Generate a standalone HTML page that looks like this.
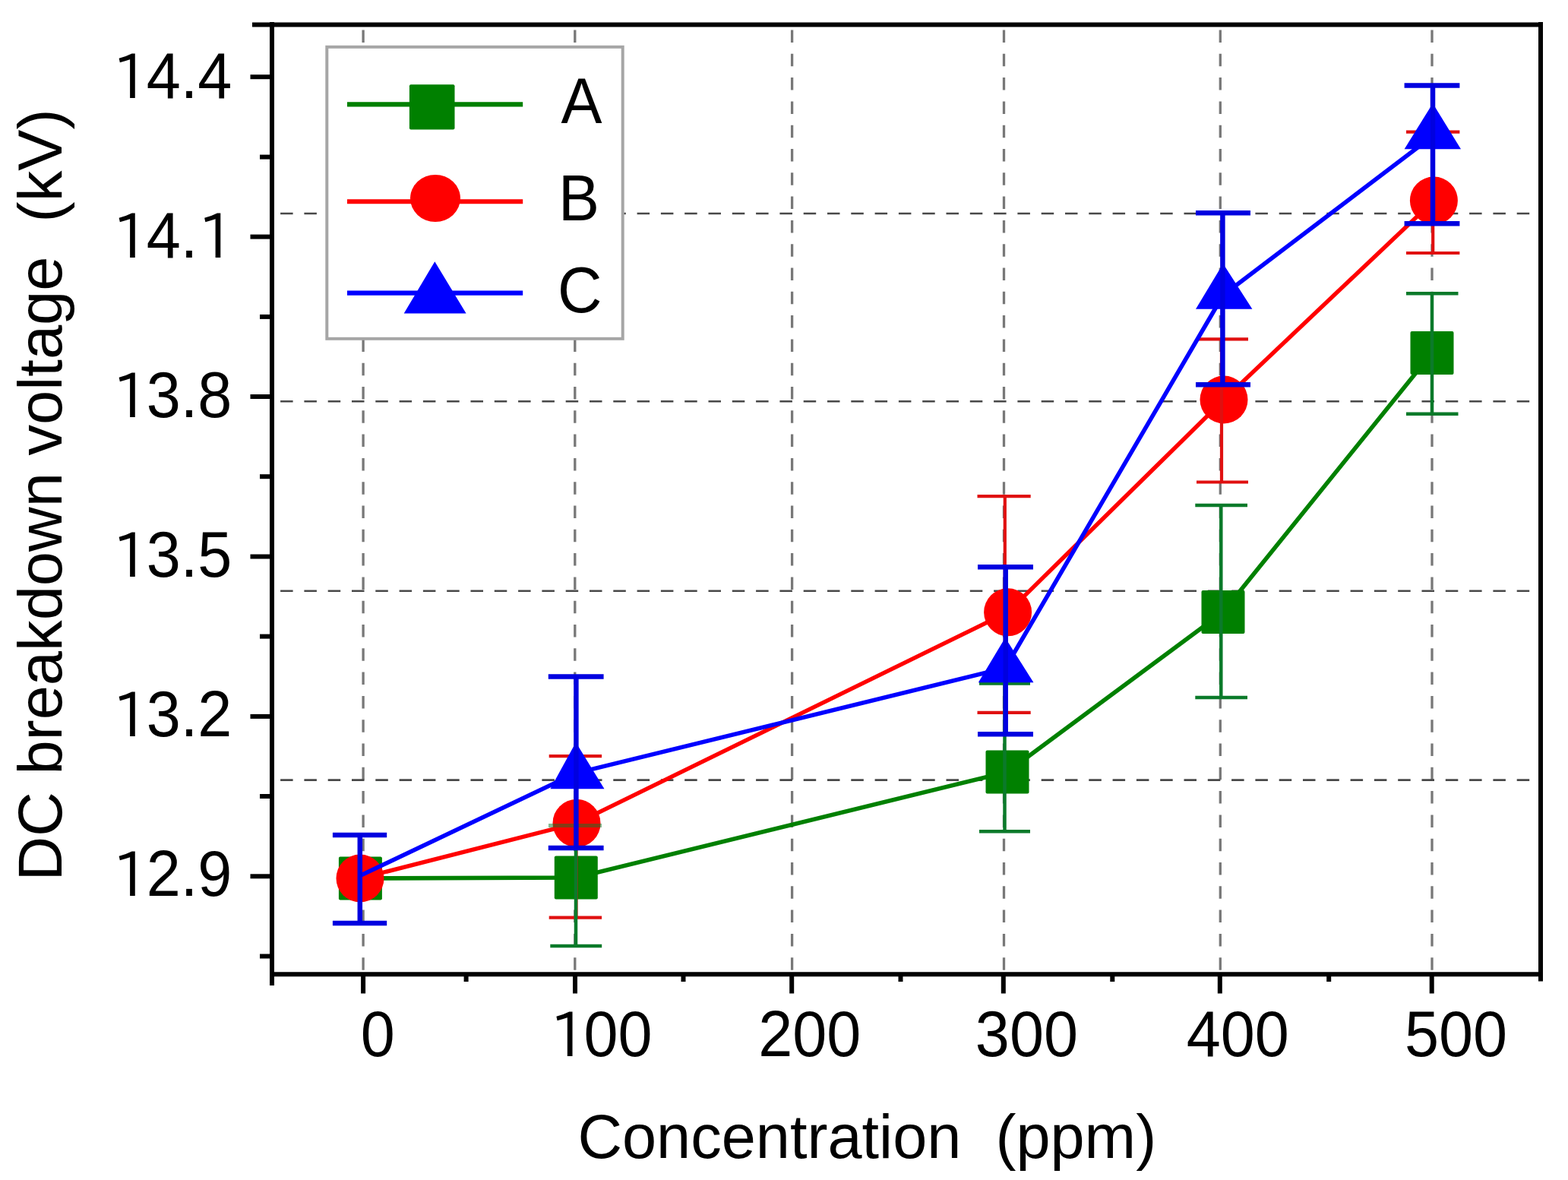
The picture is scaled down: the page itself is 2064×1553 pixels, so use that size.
<!DOCTYPE html>
<html><head><meta charset="utf-8"><title>DC breakdown voltage vs concentration</title>
<style>
html,body{margin:0;padding:0;background:#fff;}
svg{display:block;}
#wrap{width:2064px;height:1553px;}
text{font-family:"Liberation Sans",Arial,Helvetica,sans-serif;fill:#000;white-space:pre;}
.one{font-family:"IPAPGothic","IPAGothic","Liberation Sans",sans-serif;font-size:76.1px;}
</style></head><body><div id="wrap">
<svg width="2064" height="1553" viewBox="0 0 2064 1553">
<rect x="0" y="0" width="2064" height="1553" fill="#ffffff"/>
<line x1="478.1" y1="39.5" x2="478.1" y2="1279" stroke="#787878" stroke-width="3.3" stroke-dasharray="16.5 14.8" fill="none"/>
<line x1="756.8" y1="39.5" x2="756.8" y2="1279" stroke="#787878" stroke-width="3.3" stroke-dasharray="16.5 14.8" fill="none"/>
<line x1="1042.6" y1="39.5" x2="1042.6" y2="1279" stroke="#787878" stroke-width="3.3" stroke-dasharray="16.5 14.8" fill="none"/>
<line x1="1321.5" y1="39.5" x2="1321.5" y2="1279" stroke="#787878" stroke-width="3.3" stroke-dasharray="16.5 14.8" fill="none"/>
<line x1="1606.3" y1="39.5" x2="1606.3" y2="1279" stroke="#787878" stroke-width="3.3" stroke-dasharray="16.5 14.8" fill="none"/>
<line x1="1885.0" y1="39.5" x2="1885.0" y2="1279" stroke="#787878" stroke-width="3.3" stroke-dasharray="16.5 14.8" fill="none"/>
<line x1="369.1" y1="281.0" x2="2025" y2="281.0" stroke="#484848" stroke-width="2.6" stroke-dasharray="16.5 14.8" fill="none"/>
<line x1="369.1" y1="528.3" x2="2025" y2="528.3" stroke="#484848" stroke-width="2.6" stroke-dasharray="16.5 14.8" fill="none"/>
<line x1="369.1" y1="777.8" x2="2025" y2="777.8" stroke="#484848" stroke-width="2.6" stroke-dasharray="16.5 14.8" fill="none"/>
<line x1="369.1" y1="1026.6" x2="2025" y2="1026.6" stroke="#484848" stroke-width="2.6" stroke-dasharray="16.5 14.8" fill="none"/>
<polyline points="474.4,1156 758.3,1155 1326,1016 1610,805.4 1885,464.5" fill="none" stroke="#008000" stroke-width="5.6" stroke-linejoin="round"/>
<rect x="445.9" y="1127.5" width="57" height="57" rx="2" fill="#008000"/>
<rect x="729.8" y="1126.5" width="57" height="57" rx="2" fill="#008000"/>
<rect x="1297.5" y="987.5" width="57" height="57" rx="2" fill="#008000"/>
<rect x="1581.5" y="776.9" width="57" height="57" rx="2" fill="#008000"/>
<rect x="1856.5" y="436.0" width="57" height="57" rx="2" fill="#008000"/>
<polyline points="474.0,1156 759.0,1083.4 1326.6,805.8 1611,526 1887.4,264" fill="none" stroke="#ff0000" stroke-width="5.4" stroke-linejoin="round"/>
<circle cx="474.0" cy="1156" r="31.5" fill="#ff0000"/>
<circle cx="759.0" cy="1083.4" r="31.5" fill="#ff0000"/>
<circle cx="1326.6" cy="805.8" r="31.5" fill="#ff0000"/>
<circle cx="1611" cy="526" r="31.5" fill="#ff0000"/>
<circle cx="1887.4" cy="264" r="31.5" fill="#ff0000"/>
<line x1="722.7" y1="995.2" x2="792.1" y2="995.2" stroke="#e01010" stroke-width="4.2"/>
<line x1="722.7" y1="1207.6" x2="792.1" y2="1207.6" stroke="#e01010" stroke-width="4.2"/>
<line x1="758.5" y1="995.2" x2="758.5" y2="1207.6" stroke="#e01010" stroke-width="4.2"/>
<line x1="1286.5" y1="653.1" x2="1356.7" y2="653.1" stroke="#e01010" stroke-width="4.2"/>
<line x1="1286.5" y1="937.9" x2="1356.7" y2="937.9" stroke="#e01010" stroke-width="4.2"/>
<line x1="1322.8" y1="653.1" x2="1322.8" y2="937.9" stroke="#e01010" stroke-width="4.2"/>
<line x1="1575.0" y1="446.4" x2="1643.0" y2="446.4" stroke="#e01010" stroke-width="4.2"/>
<line x1="1575.0" y1="634.5" x2="1643.0" y2="634.5" stroke="#e01010" stroke-width="4.2"/>
<line x1="1608.0" y1="446.4" x2="1608.0" y2="634.5" stroke="#e01010" stroke-width="4.2"/>
<line x1="1851.0" y1="173.7" x2="1921.4" y2="173.7" stroke="#e01010" stroke-width="4.2"/>
<line x1="1851.0" y1="333.0" x2="1921.4" y2="333.0" stroke="#e01010" stroke-width="4.2"/>
<line x1="1886.2" y1="173.7" x2="1886.2" y2="333.0" stroke="#e01010" stroke-width="4.2"/>
<line x1="724.3" y1="1245.0" x2="792.2" y2="1245.0" stroke="#0b7a2a" stroke-width="4.5"/>
<line x1="758.0" y1="1245.0" x2="758.0" y2="1245.0" stroke="#0b7a2a" stroke-width="4.5"/>
<line x1="758" y1="1087.6" x2="758" y2="1245" stroke="#0b7a2a" stroke-width="4.5"/>
<line x1="722" y1="1086.5" x2="792" y2="1086.5" stroke="#0b7a2a" stroke-width="5" opacity="0.5"/>
<line x1="1289.0" y1="899.5" x2="1356.0" y2="899.5" stroke="#0b7a2a" stroke-width="4.5"/>
<line x1="1289.0" y1="1094.2" x2="1356.0" y2="1094.2" stroke="#0b7a2a" stroke-width="4.5"/>
<line x1="1322.5" y1="899.5" x2="1322.5" y2="1094.2" stroke="#0b7a2a" stroke-width="4.5"/>
<line x1="1573.3" y1="665.0" x2="1642.0" y2="665.0" stroke="#0b7a2a" stroke-width="4.5"/>
<line x1="1573.3" y1="918.1" x2="1642.0" y2="918.1" stroke="#0b7a2a" stroke-width="4.5"/>
<line x1="1607.3" y1="665.0" x2="1607.3" y2="918.1" stroke="#0b7a2a" stroke-width="4.5"/>
<line x1="1851.0" y1="386.2" x2="1919.5" y2="386.2" stroke="#0b7a2a" stroke-width="4.5"/>
<line x1="1851.0" y1="544.8" x2="1919.5" y2="544.8" stroke="#0b7a2a" stroke-width="4.5"/>
<line x1="1885.0" y1="386.2" x2="1885.0" y2="544.8" stroke="#0b7a2a" stroke-width="4.5"/>
<polyline points="474.0,1152.5 758.0,1017.5 1323.4,879 1610,388.5 1886,179" fill="none" stroke="#0000ff" stroke-width="5.6" stroke-linejoin="round"/>
<polygon points="758.0,977.0 795.5,1038.2 724.4,1038.2" fill="#0000ff"/>
<polygon points="1323.2,839.2 1360.5,898.2 1287.8,898.2" fill="#0000ff"/>
<polygon points="1610.0,347.0 1648.4,406.8 1574.0,406.8" fill="#0000ff"/>
<polygon points="1886.0,136.0 1923.0,196.3 1848.6,196.3" fill="#0000ff"/>
<line x1="437.9" y1="1099.0" x2="509.2" y2="1099.0" stroke="#0000e0" stroke-width="6.5"/>
<line x1="437.9" y1="1215.0" x2="509.2" y2="1215.0" stroke="#0000e0" stroke-width="6.5"/>
<line x1="473.8" y1="1099.0" x2="473.8" y2="1215.0" stroke="#0000e0" stroke-width="6.5"/>
<line x1="721.8" y1="890.4" x2="794.6" y2="890.4" stroke="#0000e0" stroke-width="6.5"/>
<line x1="721.8" y1="1116.0" x2="794.6" y2="1116.0" stroke="#0000e0" stroke-width="6.5"/>
<line x1="758.4" y1="890.4" x2="758.4" y2="1116.0" stroke="#0000e0" stroke-width="6.5"/>
<line x1="1287.0" y1="746.3" x2="1360.0" y2="746.3" stroke="#0000e0" stroke-width="6.5"/>
<line x1="1287.0" y1="966.2" x2="1360.0" y2="966.2" stroke="#0000e0" stroke-width="6.5"/>
<line x1="1323.7" y1="746.3" x2="1323.7" y2="966.2" stroke="#0000e0" stroke-width="6.5"/>
<line x1="1574.0" y1="280.3" x2="1646.0" y2="280.3" stroke="#0000e0" stroke-width="6.5"/>
<line x1="1574.0" y1="506.2" x2="1646.0" y2="506.2" stroke="#0000e0" stroke-width="6.5"/>
<line x1="1609.4" y1="280.3" x2="1609.4" y2="506.2" stroke="#0000e0" stroke-width="6.5"/>
<line x1="1848.6" y1="112.6" x2="1921.4" y2="112.6" stroke="#0000e0" stroke-width="6.5"/>
<line x1="1848.6" y1="294.2" x2="1921.4" y2="294.2" stroke="#0000e0" stroke-width="6.5"/>
<line x1="1886.0" y1="112.6" x2="1886.0" y2="294.2" stroke="#0000e0" stroke-width="6.5"/>
<rect x="430.3" y="61.8" width="389.4" height="384" fill="#ffffff" stroke="#a6a6a6" stroke-width="4"/>
<line x1="457" y1="137.3" x2="688.2" y2="137.3" stroke="#008000" stroke-width="6.2"/>
<rect x="538.9" y="111.2" width="59.6" height="59.4" rx="2" fill="#008000"/>
<line x1="457" y1="265.3" x2="688.2" y2="265.3" stroke="#ff0000" stroke-width="6"/>
<ellipse cx="573" cy="261" rx="33" ry="31" fill="#ff0000"/>
<line x1="457" y1="385.6" x2="688.2" y2="385.6" stroke="#0000ff" stroke-width="6.2"/>
<polygon points="572.3,344.2 613.6,412.6 531.7,412.6" fill="#0000ff"/>
<line x1="332" y1="32.4" x2="2030.8" y2="32.4" stroke="#000000" stroke-width="6.0"/>
<line x1="2028" y1="29.1" x2="2028" y2="1291.5" stroke="#000000" stroke-width="6.0"/>
<line x1="358" y1="29.1" x2="358" y2="1297" stroke="#000000" stroke-width="6.0"/>
<line x1="355.1" y1="1282.2" x2="2030.8" y2="1282.2" stroke="#000000" stroke-width="6.0"/>
<line x1="329.5" y1="101.2" x2="358" y2="101.2" stroke="#000000" stroke-width="6.0"/>
<line x1="329.5" y1="311.6" x2="358" y2="311.6" stroke="#000000" stroke-width="6.0"/>
<line x1="329.5" y1="522.0" x2="358" y2="522.0" stroke="#000000" stroke-width="6.0"/>
<line x1="329.5" y1="732.5" x2="358" y2="732.5" stroke="#000000" stroke-width="6.0"/>
<line x1="329.5" y1="942.9" x2="358" y2="942.9" stroke="#000000" stroke-width="6.0"/>
<line x1="329.5" y1="1153.3" x2="358" y2="1153.3" stroke="#000000" stroke-width="6.0"/>
<line x1="342" y1="206.6" x2="358" y2="206.6" stroke="#000000" stroke-width="6.0"/>
<line x1="342" y1="416.9" x2="358" y2="416.9" stroke="#000000" stroke-width="6.0"/>
<line x1="342" y1="627.2" x2="358" y2="627.2" stroke="#000000" stroke-width="6.0"/>
<line x1="342" y1="837.6" x2="358" y2="837.6" stroke="#000000" stroke-width="6.0"/>
<line x1="342" y1="1048.0" x2="358" y2="1048.0" stroke="#000000" stroke-width="6.0"/>
<line x1="342" y1="1258.5" x2="358" y2="1258.5" stroke="#000000" stroke-width="6.0"/>
<line x1="478.1" y1="1282" x2="478.1" y2="1307.5" stroke="#000000" stroke-width="6.0"/>
<line x1="757.0" y1="1282" x2="757.0" y2="1307.5" stroke="#000000" stroke-width="6.0"/>
<line x1="1042.2" y1="1282" x2="1042.2" y2="1307.5" stroke="#000000" stroke-width="6.0"/>
<line x1="1320.8" y1="1282" x2="1320.8" y2="1307.5" stroke="#000000" stroke-width="6.0"/>
<line x1="1605.8" y1="1282" x2="1605.8" y2="1307.5" stroke="#000000" stroke-width="6.0"/>
<line x1="1884.7" y1="1282" x2="1884.7" y2="1307.5" stroke="#000000" stroke-width="6.0"/>
<line x1="613.6" y1="1282" x2="613.6" y2="1292" stroke="#000000" stroke-width="6.0"/>
<line x1="899.5" y1="1282" x2="899.5" y2="1292" stroke="#000000" stroke-width="6.0"/>
<line x1="1185.5" y1="1282" x2="1185.5" y2="1292" stroke="#000000" stroke-width="6.0"/>
<line x1="1464.3" y1="1282" x2="1464.3" y2="1292" stroke="#000000" stroke-width="6.0"/>
<line x1="1749.2" y1="1282" x2="1749.2" y2="1292" stroke="#000000" stroke-width="6.0"/>
<text transform="translate(147.67,128.80) scale(1,1.045)" y="0" font-size="81"><tspan x="0.80" y="0.8" class="one">1</tspan><tspan x="45.04" y="0">4.4</tspan></text>
<text transform="translate(147.67,338.80) scale(1,1.045)" y="0" font-size="81"><tspan x="0.80" y="0.8" class="one">1</tspan><tspan x="45.04" y="0">4.</tspan><tspan x="113.39" y="0.8" class="one">1</tspan></text>
<text transform="translate(147.67,548.90) scale(1,1.045)" y="0" font-size="81"><tspan x="0.80" y="0.8" class="one">1</tspan><tspan x="45.04" y="0">3.8</tspan></text>
<text transform="translate(147.67,759.00) scale(1,1.045)" y="0" font-size="81"><tspan x="0.80" y="0.8" class="one">1</tspan><tspan x="45.04" y="0">3.5</tspan></text>
<text transform="translate(147.67,969.00) scale(1,1.045)" y="0" font-size="81"><tspan x="0.80" y="0.8" class="one">1</tspan><tspan x="45.04" y="0">3.2</tspan></text>
<text transform="translate(147.67,1179.40) scale(1,1.045)" y="0" font-size="81"><tspan x="0.80" y="0.8" class="one">1</tspan><tspan x="45.04" y="0">2.9</tspan></text>
<text transform="translate(474.78,1390.00) scale(1,1.045)" y="0" font-size="81"><tspan x="0.00" y="0">0</tspan></text>
<text transform="translate(723.45,1390.00) scale(1,1.045)" y="0" font-size="81"><tspan x="0.80" y="0.8" class="one">1</tspan><tspan x="45.04" y="0">00</tspan></text>
<text transform="translate(998.15,1390.00) scale(1,1.045)" y="0" font-size="81"><tspan x="0.00" y="0">200</tspan></text>
<text transform="translate(1283.85,1390.00) scale(1,1.045)" y="0" font-size="81"><tspan x="0.00" y="0">300</tspan></text>
<text transform="translate(1561.65,1390.00) scale(1,1.045)" y="0" font-size="81"><tspan x="0.00" y="0">400</tspan></text>
<text transform="translate(1848.95,1390.00) scale(1,1.045)" y="0" font-size="81"><tspan x="0.00" y="0">500</tspan></text>
<text transform="translate(738.6,162.3) scale(1,1.045)" font-size="81">A</text>
<text transform="translate(735,289.5) scale(1,1.045)" font-size="81">B</text>
<text transform="translate(734,411) scale(1,1.045)" font-size="81">C</text>
<text transform="translate(1141.3,1524)" text-anchor="middle" font-size="81.1" xml:space="preserve">Concentration  (ppm)</text>
<text transform="translate(80.6,651.5) rotate(-90)" text-anchor="middle" font-size="81.25" xml:space="preserve">DC breakdown voltage  (kV)</text>
</svg>
</div></body></html>
